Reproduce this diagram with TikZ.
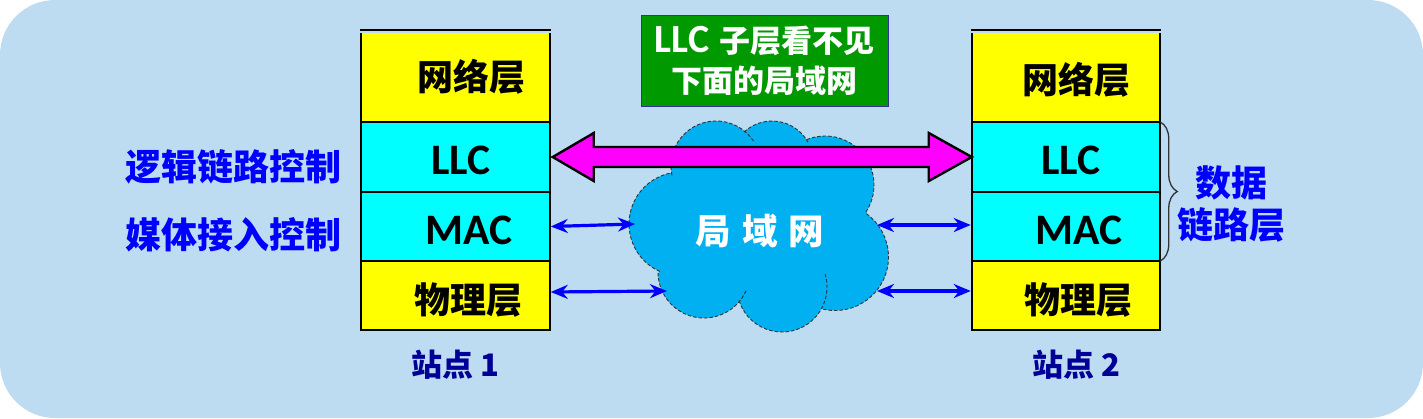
\documentclass[tikz,border=0pt]{standalone}
\usepackage{fontspec}
\setmainfont{Carlito}
\newfontfamily\cjk{Noto Sans CJK SC}
\usepackage{xcolor}
\usetikzlibrary{arrows.meta,decorations.pathreplacing}
\definecolor{panelblue}{RGB}{189,219,241}
\definecolor{lanblue}{RGB}{0,176,240}
\definecolor{notegreen}{RGB}{0,153,0}
\definecolor{notenavy}{RGB}{51,51,153}
\definecolor{stationnavy}{RGB}{0,0,153}
\definecolor{layeryellow}{RGB}{255,255,0}
\definecolor{layercyan}{RGB}{0,255,255}
\definecolor{linkmagenta}{RGB}{255,0,255}
\definecolor{linkblue}{RGB}{0,0,255}
\tikzset{
    layerbox/.style={draw=black,line width=1.6pt,minimum width=188.5pt,outer sep=0pt,inner sep=0pt},
    layertext/.style={font=\fontsize{43.5}{46}\selectfont\bfseries},
    layercjk/.style={font=\fontsize{36}{40}\selectfont\bfseries\cjk},
    sidelabel/.style={text=linkblue,font=\fontsize{36}{42}\selectfont\bfseries\cjk,align=center},
    stationlabel/.style={text=stationnavy,font=\fontsize{31}{34}\selectfont\bfseries\cjk},
    lanedge/.style={draw=black!80,line width=0.9pt,dash pattern=on 3.5pt off 2pt},
    linkarrow/.style={{Stealth[length=17pt,width=14pt]}-{Stealth[length=17pt,width=14pt]},linkblue,line width=3.2pt}
}
% centre x / centre y / radius / start angle / end angle
\newcommand{\lanlobes}{716/166/45/168/328, 772/162/41/227/331, 825/185/49/248/394, 835/257/53.5/306/465,
    782/287/45/343/525, 704/272/46/24/179, 681/224/52/114/260}
\begin{document}
\begin{tikzpicture}[x=1pt,y=-1pt]
    \useasboundingbox (0,0) rectangle (1423,418);
    \fill[panelblue,rounded corners=55pt] (0,0) rectangle (1423,418);

    % station 1
    \node[layerbox,fill=layeryellow,minimum height=92pt] (net1) at (455.5,76) {};
    \node[layerbox,fill=layercyan,minimum height=70pt] (llc1) at (455.5,157) {};
    \node[layerbox,fill=layercyan,minimum height=69pt] (mac1) at (455.5,226.5) {};
    \node[layerbox,fill=layeryellow,minimum height=69pt] (phy1) at (455.5,295.5) {};
    \draw[panelblue,line width=2pt] ([xshift=-2pt,yshift=-2pt]net1.north west) -- ([xshift=2pt,yshift=-2pt]net1.north east);
    \node[layercjk] (nettext1) at (471,77) {网络层};
    \node[layertext] (llctext1) at (461,160) {LLC};
    \node[layertext] (mactext1) at (469,230) {MAC};
    \node[layercjk] (phytext1) at (468,300) {物理层};
    \node[stationlabel] (station1) at (455,365) {站点 1};

    % station 2
    \node[layerbox,fill=layeryellow,minimum height=92pt] (net2) at (1066,76) {};
    \node[layerbox,fill=layercyan,minimum height=70pt] (llc2) at (1066,157) {};
    \node[layerbox,fill=layercyan,minimum height=69pt] (mac2) at (1066,226.5) {};
    \node[layerbox,fill=layeryellow,minimum height=69pt] (phy2) at (1066,295.5) {};
    \draw[panelblue,line width=2pt] ([xshift=-2pt,yshift=-2pt]net2.north west) -- ([xshift=2pt,yshift=-2pt]net2.north east);
    \node[layercjk] (nettext2) at (1076,80) {网络层};
    \node[layertext] (llctext2) at (1071,160) {LLC};
    \node[layertext] (mactext2) at (1079,230) {MAC};
    \node[layercjk] (phytext2) at (1078,300) {物理层};
    \node[stationlabel] (station2) at (1076,365) {站点 2};

    % side labels
    \node[sidelabel] (llcname) at (233,167) {逻辑链路控制};
    \node[sidelabel] (macname) at (233,235) {媒体接入控制};
    \node[sidelabel] (dataname) at (1231,204) {数据\\链路层};
    \draw[black!80,line width=1.3pt,decorate,decoration={brace,amplitude=17pt}]
        (llc2.north east) -- (mac2.south east);

    % note
    \node[draw=notenavy,line width=1pt,fill=notegreen,text=white,minimum width=247pt,minimum height=91pt,
        align=center,font=\fontsize{31}{40}\selectfont\bfseries\cjk] (note) at (764.5,60.5)
        {{\fontsize{40}{40}\selectfont\rmfamily\bfseries LLC}\hspace{3pt} 子层看不见\\下面的局域网};

    % cloud
    \foreach \cx/\cy/\rr/\sa/\ea in \lanlobes
        \fill[lanblue] (\cx,\cy) -- ++(\sa:\rr) arc[start angle=\sa,end angle=\ea,radius=\rr] -- cycle;
    \fill[lanblue] (672,175) -- (753,143) -- (808,142) -- (867,213) -- (822,305) -- (740,298) -- (659,273) -- cycle;
    \foreach \cx/\cy/\rr/\sa/\ea in \lanlobes
        \draw[lanedge] (\cx,\cy) ++(\sa:\rr) arc[start angle=\sa,end angle=\ea,radius=\rr];
    \node[text=white,font=\fontsize{35.5}{38}\selectfont\bfseries\cjk] (lan) at (760,231) {局\hspace{11pt}域\hspace{11pt}网};

    % links
    \coordinate (lanmac1) at (635,224);
    \coordinate (lanphy1) at (667,291);
    \coordinate (lanmac2) at (877,225);
    \coordinate (lanphy2) at (877,291);
    \draw[linkarrow] ([xshift=1pt]mac1.east) -- (lanmac1);
    \draw[linkarrow] ([xshift=1pt,yshift=3.5pt]phy1.east) -- (lanphy1);
    \draw[linkarrow] (lanmac2) -- ([xshift=-1pt,yshift=1.5pt]mac2.west);
    \draw[linkarrow] (lanphy2) -- ([xshift=-1pt,yshift=4.5pt]phy2.west);

    % logical link
    \draw[fill=linkmagenta,draw=black,line width=2.4pt,line join=miter]
        ([xshift=3pt]llc1.east) -- ++(41,-24) -- ++(0,14) -- ++(335,0) -- ++(0,-14) -- ++(43,24)
        -- ++(-43,24) -- ++(0,-14) -- ++(-335,0) -- ++(0,14) -- cycle;
\end{tikzpicture}
\end{document}
